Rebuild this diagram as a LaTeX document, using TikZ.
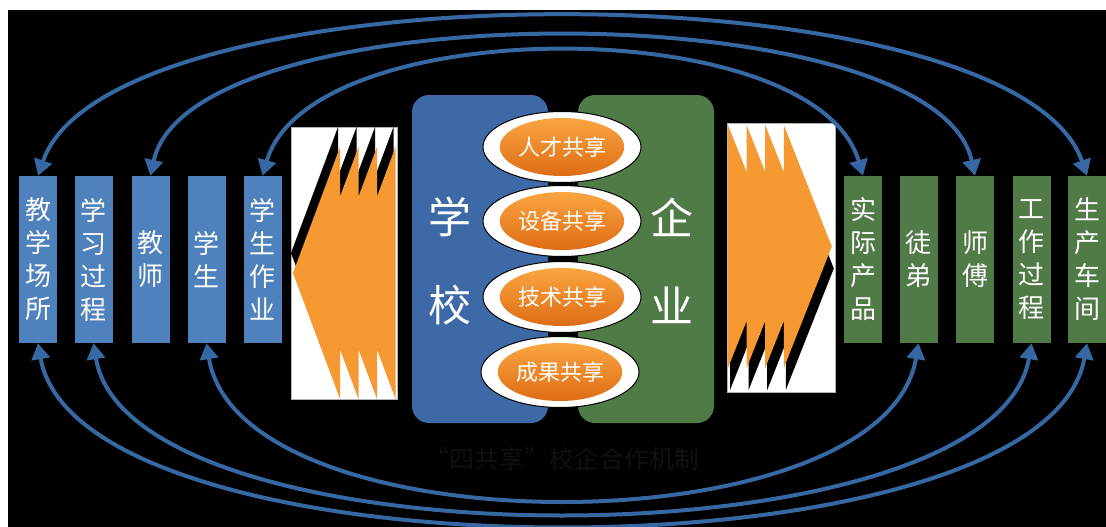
\documentclass[tikz,border=0pt]{standalone}
\usepackage{fontspec}
\newfontfamily\cjk{Noto Sans CJK SC}
\usetikzlibrary{arrows.meta,shapes.geometric}

\definecolor{xblue}{RGB}{79,129,189}
\definecolor{xdeep}{RGB}{61,106,166}
\definecolor{qgreen}{RGB}{80,122,70}
\definecolor{fanorange}{RGB}{247,153,51}
\definecolor{linkblue}{RGB}{54,104,163}
\definecolor{capgray}{RGB}{17,17,17}

\tikzset{
    xbox/.style={fill=xblue, minimum width=38pt, minimum height=167pt, inner sep=0pt,
        text=white, align=center, font=\cjk\fontsize{26}{33}\selectfont},
    qbox/.style={xbox, fill=qgreen},
    bigpanel/.style={rounded corners=17pt, minimum width=136pt, minimum height=328pt, inner sep=0pt},
    bigchar/.style={text=white, align=center, font=\cjk\fontsize{43}{88}\selectfont},
    ring/.style={ellipse, draw=black, line width=1pt, fill=white, minimum width=158pt,
        minimum height=71pt, inner sep=0pt},
    pill/.style={ellipse, top color={rgb,255:red,250;green,165;blue,66},
        bottom color={rgb,255:red,222;green,108;blue,20}, minimum width=122pt,
        minimum height=58pt, inner sep=0pt, text=white, font=\cjk\fontsize{22}{22}\selectfont},
    link/.style={draw=linkblue, line width=4pt,
        {Triangle[width=18pt,length=16pt]}-{Triangle[width=18pt,length=16pt]}},
}

\begin{document}
\begin{tikzpicture}[x=1pt,y=-1pt]
    \useasboundingbox (0,0) rectangle (1106,527);
    \fill[white] (0,0) rectangle (1106,527);
    \fill[black] (8,10) rectangle (1106,527);

    % left fan
    \draw[fill=white, draw=gray!60] (291,127) rectangle (397,399);
    \fill[black, shift={(-2,-20)}] (395.5,147) -- (395.5,399) -- (377,349.4) -- (377,399) -- (358.5,349.4) -- (358.5,399) -- (340,349.4) -- (340,399) -- (293,273) -- (340,147) -- (340,196.6) -- (358.5,147) -- (358.5,196.6) -- (377,147) -- (377,196.6) -- cycle;
    \fill[fanorange] (395.5,147) -- (395.5,399) -- (377,349.4) -- (377,399) -- (358.5,349.4) -- (358.5,399) -- (340,349.4) -- (340,399) -- (293,273) -- (340,147) -- (340,196.6) -- (358.5,147) -- (358.5,196.6) -- (377,147) -- (377,196.6) -- cycle;

    % right fan
    \draw[fill=white, draw=gray!60] (727,123) rectangle (835,392);
    \fill[black, shift={(2,22)}] (728,125) -- (746.6,172) -- (746.6,125) -- (765.2,172) -- (765.2,125) -- (783.8,172) -- (783.8,125) -- (831.8,246.5) -- (783.8,368) -- (783.8,321) -- (765.2,368) -- (765.2,321) -- (746.6,368) -- (746.6,321) -- (728,368) -- cycle;
    \fill[fanorange] (728,125) -- (746.6,172) -- (746.6,125) -- (765.2,172) -- (765.2,125) -- (783.8,172) -- (783.8,125) -- (831.8,246.5) -- (783.8,368) -- (783.8,321) -- (765.2,368) -- (765.2,321) -- (746.6,368) -- (746.6,321) -- (728,368) -- cycle;

    \node[bigpanel, fill=xdeep] (xiao) at (480,259) {};
    \node[bigpanel, fill=qgreen] (qi) at (646,259) {};
    \node[bigchar] (xuexiao) at (450,261) {学\\校};
    \node[bigchar] (qiye) at (672,261) {企\\业};

    \node[ring] (r1) at (562,147) {};
    \node[ring] (r2) at (562,221) {};
    \node[ring] (r3) at (562,297) {};
    \node[ring] (r4) at (560,372) {};
    \node[pill] (p1) at (r1) {人才共享};
    \node[pill] (p2) at (r2) {设备共享};
    \node[pill] (p3) at (r3) {技术共享};
    \node[pill] (p4) at (r4) {成果共享};

    \node[xbox] (b1) at (38,259.5) {教\\学\\场\\所};
    \node[xbox] (b2) at (93.5,259.5) {学\\习\\过\\程};
    \node[xbox] (b3) at (150.5,259.5) {教\\师};
    \node[xbox] (b4) at (206.5,259.5) {学\\生};
    \node[xbox] (b5) at (262.5,259.5) {学\\生\\作\\业};

    \node[qbox] (g1) at (863,259.5) {实\\际\\产\\品};
    \node[qbox] (g2) at (918.5,259.5) {徒\\弟};
    \node[qbox] (g3) at (975,259.5) {师\\傅};
    \node[qbox] (g4) at (1031.5,259.5) {工\\作\\过\\程};
    \node[qbox] (g5) at (1087,259.5) {生\\产\\车\\间};

    % upper links
    \draw[link] (b1.north) .. controls (110,-35) and (1015,-35) .. (g5.north);
    \draw[link] (b3.north) .. controls (190,-9) and (935,-9) .. (g3.north);
    \draw[link] (b5.north) .. controls (310,11) and (815,11) .. (g1.north);

    % lower links
    \draw[link] (b1.south) .. controls (80,584) and (1045,584) .. (g5.south);
    \draw[link] (b2.south) .. controls (130,568) and (994,568) .. (g4.south);
    \draw[link] (b4.south) .. controls (240,550) and (884,550) .. (g2.south);

    \node[text=capgray, font=\cjk\fontsize{25}{25}\selectfont] (cap) at (562,459) {“四共享”校企合作机制};
\end{tikzpicture}
\end{document}
